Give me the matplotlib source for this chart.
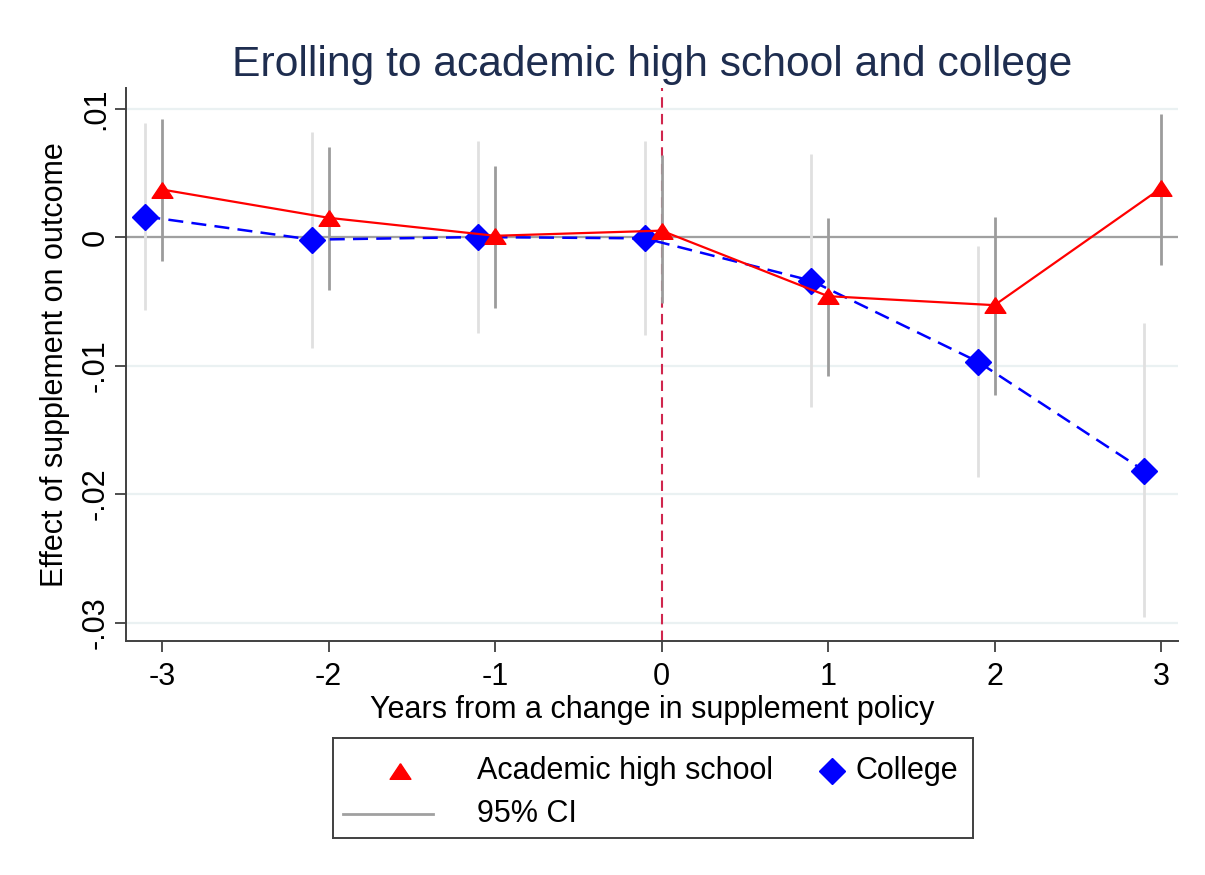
import matplotlib
matplotlib.use("Agg")
import matplotlib.pyplot as plt
import numpy as np

plt.rcParams['font.family'] = ['Liberation Sans', 'DejaVu Sans']
plt.rcParams['axes.unicode_minus'] = False

# event-time estimates, 95% CI bounds
years = [-3, -2, -1, 0, 1, 2, 3]
college_shift = -0.1

academic = [0.0037, 0.0015, 0.0001, 0.0005, -0.0046, -0.0053, 0.0038]
academic_lo = [-0.0019, -0.0041, -0.0055, -0.0051, -0.0108, -0.0123, -0.0022]
academic_hi = [0.0092, 0.0070, 0.0055, 0.0064, 0.0015, 0.0016, 0.0096]

college = [0.0016, -0.0002, 0.0000, -0.0001, -0.0034, -0.0097, -0.0182]
college_lo = [-0.0057, -0.0086, -0.0075, -0.0076, -0.0132, -0.0187, -0.0296]
college_hi = [0.0089, 0.0082, 0.0075, 0.0075, 0.0065, -0.0007, -0.0067]

ytick_vals = [0.01, 0, -0.01, -0.02, -0.03]
ytick_labels = ['.01', '0', '-.01', '-.02', '-.03']

# wide, flat triangle like Stata's marker
tri = [(0, 0.75), (-1, -0.75), (1, -0.75), (0, 0.75)]

fig = plt.figure(figsize=(12.05, 8.75), dpi=100)
ax = fig.add_axes([0.1046, 0.2674, 0.873, 0.632])

ax.set_xlim(-3.216, 3.102)
ax.set_ylim(-0.03144, 0.0116)

for y in ytick_vals:
    ax.axhline(y, color='#eaf1f2', lw=1.6, zorder=0)
ax.axhline(0, color='#a0a0a0', lw=1.6, zorder=1)
ax.axvline(0, color='#d0264d', lw=1.5, ls=(0, (5, 3)), zorder=1)

xc = np.array(years) + college_shift
ax.vlines(xc, college_lo, college_hi, color='#e0e0e0', lw=2.0, zorder=2)
ax.vlines(years, academic_lo, academic_hi, color='#9c9c9c', lw=2.0, zorder=2)

ax.plot(years, academic, color='#ff0000', lw=1.6, marker=tri, ms=15,
        zorder=4)
ax.plot(xc, college, color='#0000ff', lw=1.8, ls=(0, (6, 3.3)), marker='D',
        ms=13, zorder=3)

ax.set_yticks(ytick_vals)
ax.set_yticklabels(ytick_labels, rotation=90, va='center')
ax.set_xticks(years)
ax.tick_params(axis='both', labelsize=22, length=8, width=1.3,
               color='#404040', direction='out')
ax.tick_params(axis='x', pad=7)
ax.tick_params(axis='y', pad=3)

for side in ['top', 'right']:
    ax.spines[side].set_visible(False)
for side in ['left', 'bottom']:
    ax.spines[side].set_color('#404040')
    ax.spines[side].set_linewidth(1.4)

ax.set_xlabel('Years from a change in supplement policy', fontsize=22,
              labelpad=2)
ax.set_ylabel('Effect of supplement on outcome', fontsize=22, labelpad=8)
ax.set_title('Erolling to academic high school and college', fontsize=30.7,
             color='#1e2d4f', pad=9)

# legend drawn in its own box
lg = fig.add_axes([0.2763, 0.0423, 0.5311, 0.1143])
lg.set_xlim(0, 640)
lg.set_ylim(100, 0)
lg.set_xticks([])
lg.set_yticks([])
for s in lg.spines.values():
    s.set_color('#404040')
    s.set_linewidth(1.4)
lg.plot([67], [33], marker=tri, ms=15, color='#ff0000', ls='none')
lg.text(144, 33, 'Academic high school', fontsize=22, va='center')
lg.plot([499], [33], marker='D', ms=13, color='#0000ff', ls='none')
lg.text(523, 33, 'College', fontsize=22, va='center')
lg.plot([10, 100], [76, 76], color='#a0a0a0', lw=2.0)
lg.text(144, 76, '95% CI', fontsize=22, va='center')

fig.savefig('out.png', dpi=100)
